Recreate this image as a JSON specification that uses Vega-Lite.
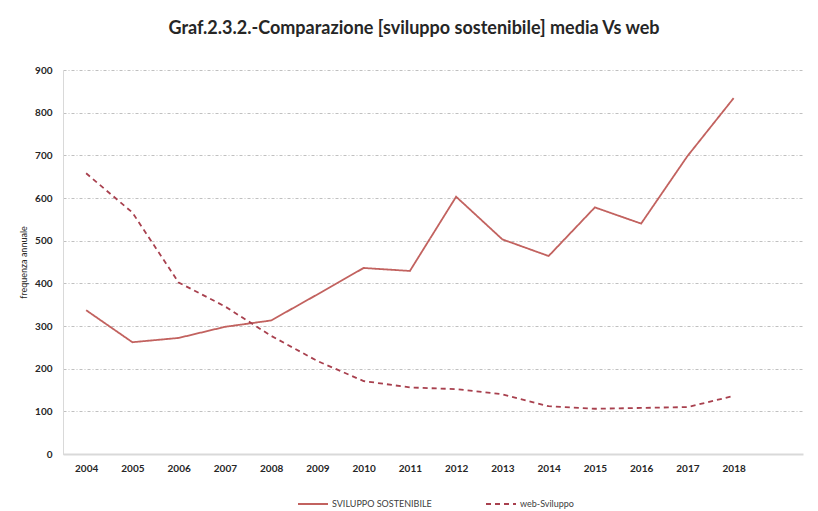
{
  "$schema": "https://vega.github.io/schema/vega-lite/v6.json",
  "width": 740,
  "height": 384,
  "autosize": {"type": "none"},
  "padding": {"left": 63, "top": 70, "right": 15, "bottom": 57},
  "background": "white",
  "title": {
    "text": "Graf.2.3.2.-Comparazione [sviluppo sostenibile] media Vs web",
    "font": "Lato",
    "fontSize": 18,
    "fontWeight": "bold",
    "color": "#262626",
    "anchor": "middle",
    "dx": -19,
    "offset": 27
  },
  "data": {
    "values": [
      {"year": 2004, "series": "SVILUPPO SOSTENIBILE", "value": 337},
      {"year": 2005, "series": "SVILUPPO SOSTENIBILE", "value": 262},
      {"year": 2006, "series": "SVILUPPO SOSTENIBILE", "value": 272},
      {"year": 2007, "series": "SVILUPPO SOSTENIBILE", "value": 298},
      {"year": 2008, "series": "SVILUPPO SOSTENIBILE", "value": 313},
      {"year": 2009, "series": "SVILUPPO SOSTENIBILE", "value": 374},
      {"year": 2010, "series": "SVILUPPO SOSTENIBILE", "value": 436},
      {"year": 2011, "series": "SVILUPPO SOSTENIBILE", "value": 429},
      {"year": 2012, "series": "SVILUPPO SOSTENIBILE", "value": 603},
      {"year": 2013, "series": "SVILUPPO SOSTENIBILE", "value": 503},
      {"year": 2014, "series": "SVILUPPO SOSTENIBILE", "value": 464},
      {"year": 2015, "series": "SVILUPPO SOSTENIBILE", "value": 578},
      {"year": 2016, "series": "SVILUPPO SOSTENIBILE", "value": 540},
      {"year": 2017, "series": "SVILUPPO SOSTENIBILE", "value": 698},
      {"year": 2018, "series": "SVILUPPO SOSTENIBILE", "value": 834},
      {"year": 2004, "series": "web-Sviluppo", "value": 658},
      {"year": 2005, "series": "web-Sviluppo", "value": 566},
      {"year": 2006, "series": "web-Sviluppo", "value": 402},
      {"year": 2007, "series": "web-Sviluppo", "value": 346},
      {"year": 2008, "series": "web-Sviluppo", "value": 277},
      {"year": 2009, "series": "web-Sviluppo", "value": 218},
      {"year": 2010, "series": "web-Sviluppo", "value": 171},
      {"year": 2011, "series": "web-Sviluppo", "value": 156},
      {"year": 2012, "series": "web-Sviluppo", "value": 152},
      {"year": 2013, "series": "web-Sviluppo", "value": 140},
      {"year": 2014, "series": "web-Sviluppo", "value": 112},
      {"year": 2015, "series": "web-Sviluppo", "value": 106},
      {"year": 2016, "series": "web-Sviluppo", "value": 108},
      {"year": 2017, "series": "web-Sviluppo", "value": 110},
      {"year": 2018, "series": "web-Sviluppo", "value": 136}
    ]
  },
  "mark": {"type": "line", "strokeWidth": 1.8},
  "encoding": {
    "x": {
      "field": "year",
      "type": "quantitative",
      "scale": {"domain": [2003.5, 2019.5], "nice": false, "zero": false},
      "axis": {
        "title": null,
        "values": [2004, 2005, 2006, 2007, 2008, 2009, 2010, 2011, 2012, 2013, 2014, 2015, 2016, 2017, 2018],
        "format": "d",
        "grid": false,
        "ticks": false,
        "domainColor": "#d9d9d9",
        "domainWidth": 2,
        "labelFont": "Lato",
        "labelFontSize": 10,
        "labelFontWeight": "bold",
        "labelColor": "#262626",
        "labelPadding": 9
      }
    },
    "y": {
      "field": "value",
      "type": "quantitative",
      "scale": {"domain": [0, 900], "nice": false},
      "axis": {
        "title": "frequenza annuale",
        "titleFont": "Lato",
        "titleFontSize": 9,
        "titleFontWeight": "normal",
        "titleColor": "#262626",
        "titlePadding": 6,
        "values": [0, 100, 200, 300, 400, 500, 600, 700, 800, 900],
        "ticks": false,
        "domainColor": "#d9d9d9",
        "domainWidth": 1,
        "grid": true,
        "gridColor": "#b0b0b0",
        "gridDash": [3, 2, 1, 2],
        "gridWidth": 0.8,
        "labelFont": "Lato",
        "labelFontSize": 10,
        "labelFontWeight": "bold",
        "labelColor": "#262626",
        "labelPadding": 11
      }
    },
    "color": {
      "field": "series",
      "type": "nominal",
      "scale": {
        "domain": ["SVILUPPO SOSTENIBILE", "web-Sviluppo"],
        "range": ["#c2625f", "#a8404e"]
      },
      "legend": {
        "title": null,
        "orient": "none",
        "legendX": 234,
        "legendY": 418,
        "direction": "horizontal",
        "symbolType": "stroke",
        "symbolSize": 900,
        "symbolStrokeWidth": 1.8,
        "labelFont": "Lato",
        "labelFontSize": 9,
        "labelColor": "#404040",
        "labelOffset": 3,
        "columnPadding": 50
      }
    },
    "strokeDash": {
      "field": "series",
      "type": "nominal",
      "scale": {
        "domain": ["SVILUPPO SOSTENIBILE", "web-Sviluppo"],
        "range": [[1, 0], [5, 4]]
      },
      "legend": {
        "title": null,
        "orient": "none",
        "legendX": 234,
        "legendY": 418,
        "direction": "horizontal",
        "symbolType": "stroke",
        "symbolSize": 900,
        "symbolStrokeWidth": 1.8,
        "labelFont": "Lato",
        "labelFontSize": 9,
        "labelColor": "#404040",
        "labelOffset": 3,
        "columnPadding": 50
      }
    }
  },
  "config": {
    "view": {"stroke": null}
  }
}
